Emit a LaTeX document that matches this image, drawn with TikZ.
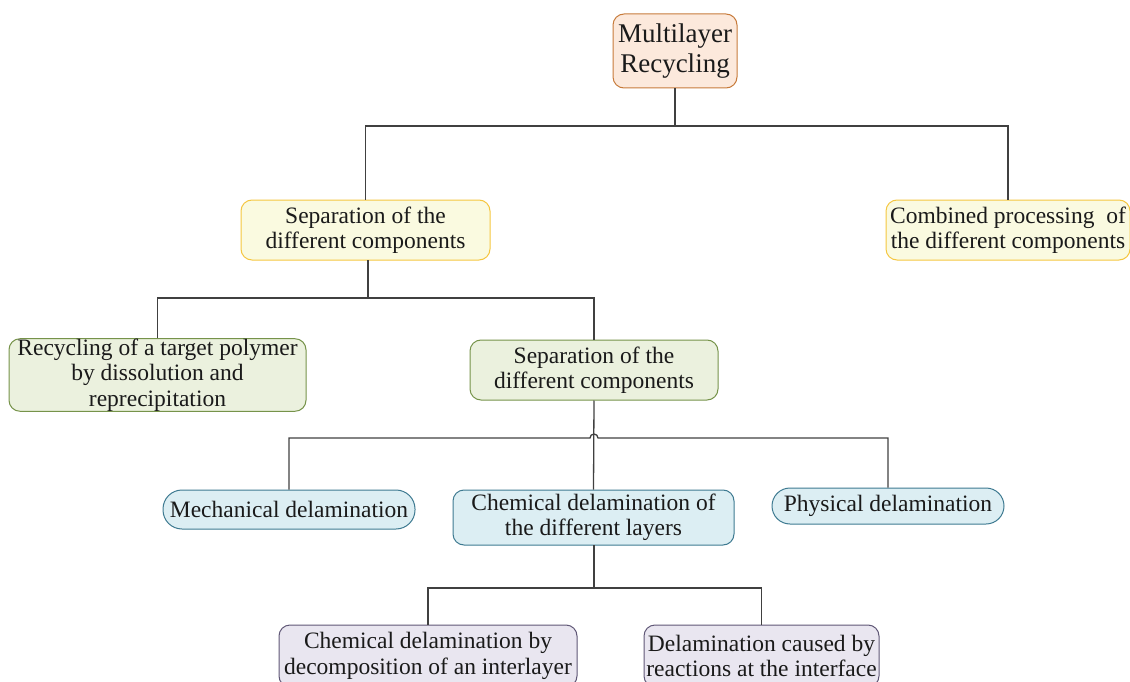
\documentclass[tikz,border=0pt]{standalone}
\usepackage{fontspec}
\setmainfont{Liberation Serif}
\definecolor{orfill}{HTML}{FCE9DC}\definecolor{ordraw}{HTML}{C77B3B}
\definecolor{yefill}{HTML}{FAFAE0}\definecolor{yedraw}{HTML}{F5C640}
\definecolor{grfill}{HTML}{EBF1DE}\definecolor{grdraw}{HTML}{76934A}
\definecolor{blfill}{HTML}{DCEEF3}\definecolor{bldraw}{HTML}{3E7A91}
\definecolor{pufill}{HTML}{E9E6F0}\definecolor{pudraw}{HTML}{5F5776}
\definecolor{linec}{HTML}{404040}
\definecolor{txt}{HTML}{1A1A1A}
\tikzset{
  box/.style={rectangle, rounded corners=11pt, line width=1pt, inner sep=0pt, align=center, text=txt,
    font=\fontsize{23.5}{25.5}\selectfont},
  orbox/.style={box, fill=orfill, draw=ordraw, font=\fontsize{27}{30}\selectfont},
  yebox/.style={box, fill=yefill, draw=yedraw},
  grbox/.style={box, fill=grfill, draw=grdraw},
  blbox/.style={box, fill=blfill, draw=bldraw},
  pubox/.style={box, fill=pufill, draw=pudraw},
  conn/.style={draw=linec, line width=1.3pt}
}
\begin{document}
\begin{tikzpicture}[x=1pt,y=-1pt]
\useasboundingbox (0,0) rectangle (1130,682);
\node[orbox, minimum width=124pt, minimum height=74pt] (top) at (675,51) {Multilayer\\Recycling};
\node[yebox, minimum width=249pt, minimum height=60pt] (sep1) at (365.5,230) {Separation of the\\different components};
\node[yebox, minimum width=244pt, minimum height=60pt] (comb) at (1008,230) {Combined processing\ \ of\\the different components};
\node[grbox, minimum width=297pt, minimum height=70pt] (rec) at (157.5,375) {Recycling of a target polymer\\by dissolution and\\reprecipitation};
\node[grbox, minimum width=248pt, minimum height=60pt] (sep2) at (594,370) {Separation of the\\different components};
\node[blbox, rounded corners=19pt, minimum width=252pt, minimum height=39pt] (mech) at (289,509.5) {Mechanical delamination};
\node[blbox, minimum width=281pt, minimum height=55pt] (chem) at (593.5,517.5) {Chemical delamination of\\the different layers};
\node[blbox, rounded corners=18pt, minimum width=232pt, minimum height=36pt] (phys) at (888,506) {Physical delamination};
\node[pubox, minimum width=298pt, minimum height=62pt] (cdi) at (428,656) {Chemical delamination by\\decomposition of an interlayer};
\node[pubox, minimum width=235pt, minimum height=62pt] (dcr) at (761.5,656) {Delamination caused by\\reactions at the interface};
% level 1
\coordinate (b1) at (675,126);
\draw[conn] (top.south) -- (b1);
\draw[conn] (sep1.north) |- (b1) -| (comb.north);
% level 2
\coordinate (b2) at (368,298);
\draw[conn] (368,260) -- (b2);
\draw[conn] (rec.north) |- (b2) -| (sep2.north);
% level 3 with hop
\coordinate (b3l) at (590,438);
\draw[conn] (sep2.south) -- (chem.north);
\draw[conn] (mech.north) |- (b3l) arc[start angle=180, end angle=0, radius=4pt] -| (phys.north);
% level 4
\coordinate (b4) at (594,588);
\draw[conn] (594,545) -- (b4);
\draw[conn] (cdi.north) |- (b4) -| (dcr.north);
\end{tikzpicture}
\end{document}
